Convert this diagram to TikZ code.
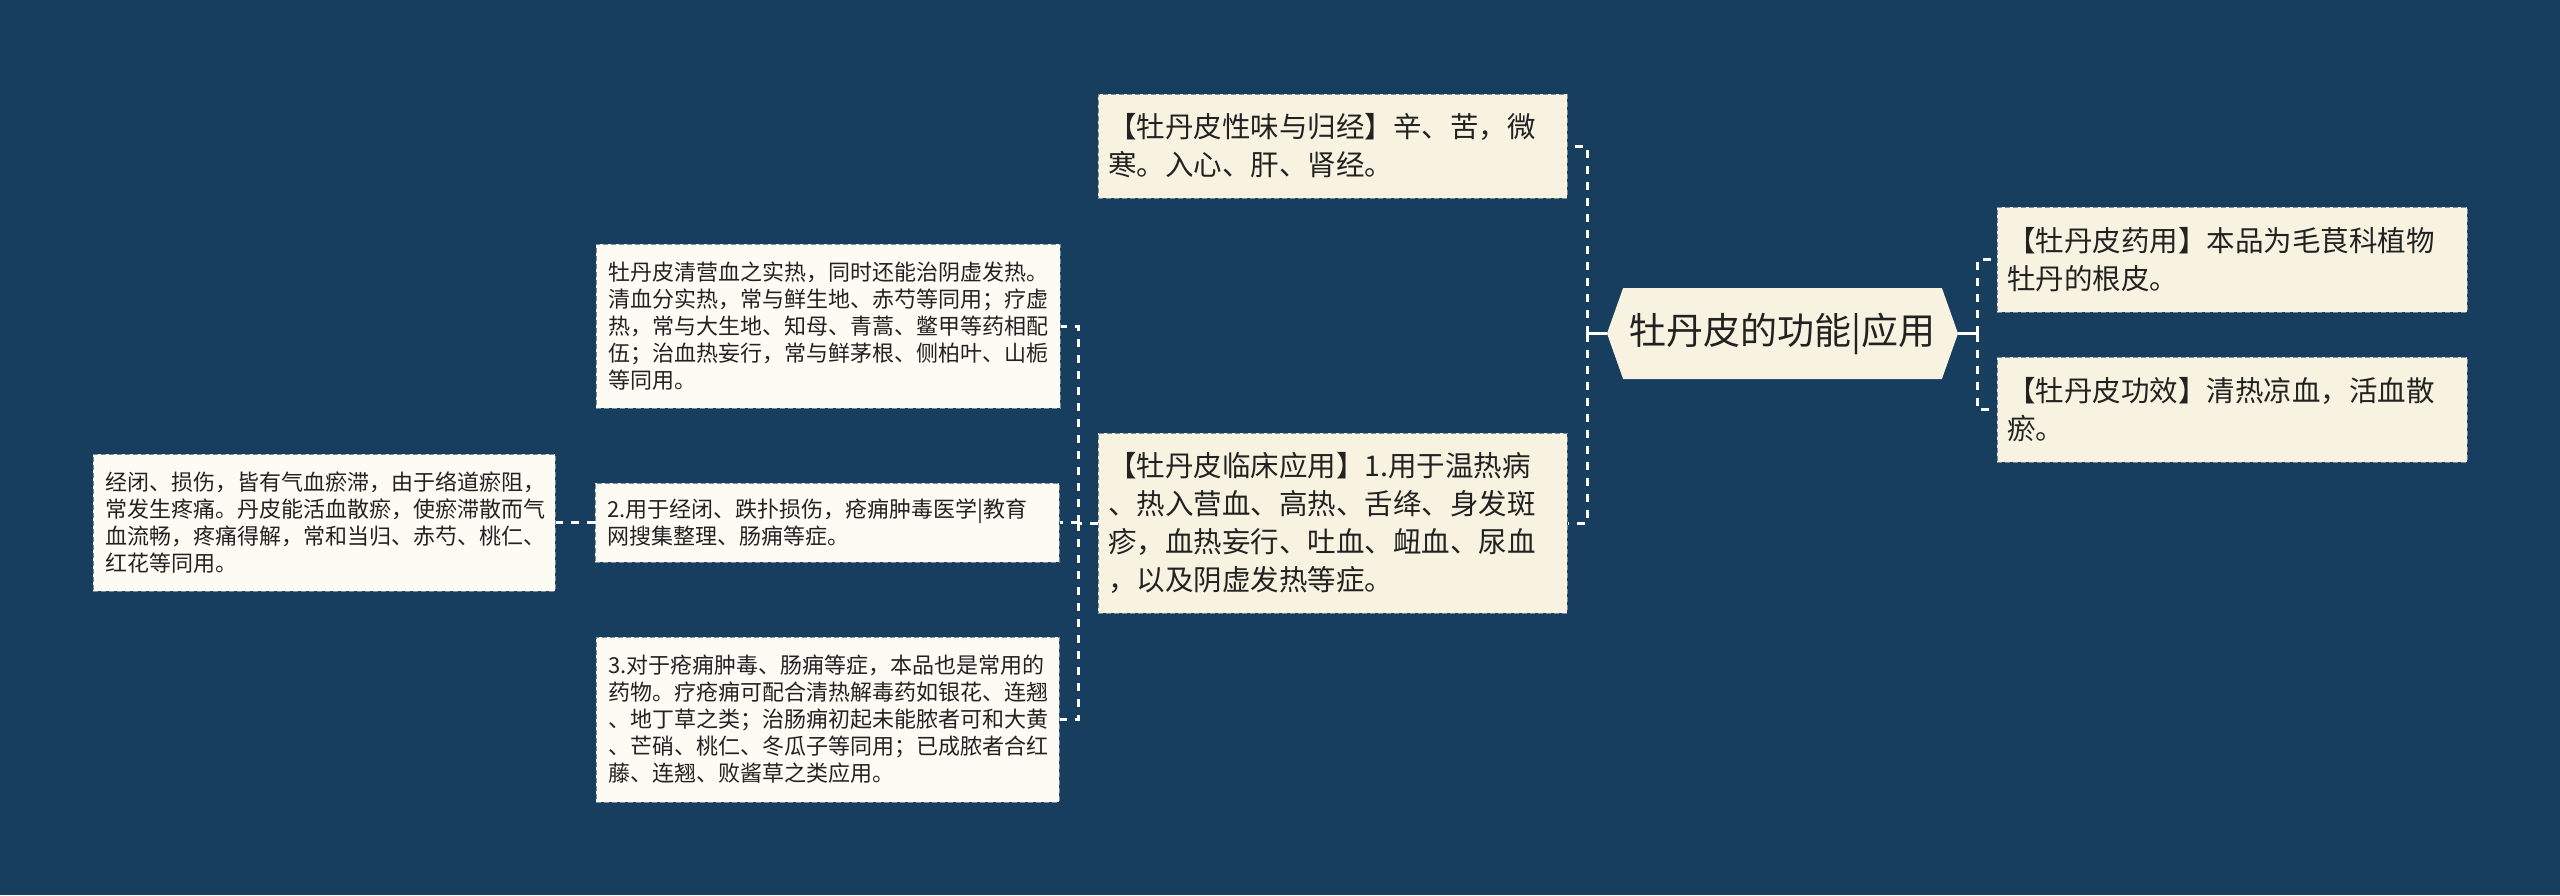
\documentclass[tikz,border=0pt]{standalone}
\usepackage{fontspec}
\setmainfont{Noto Sans CJK SC}
\usetikzlibrary{shapes.symbols}
\definecolor{bgblue}{HTML}{173E5F}
\definecolor{cream}{HTML}{F8F3E1}
\definecolor{paper}{HTML}{FDFCF4}
\definecolor{edge}{HTML}{7D8C99}
\definecolor{ink}{HTML}{222222}
\tikzstyle{rootbox} = [signal, signal to=west and east, signal pointer angle=141,
                       fill=cream, text=ink, inner sep=0pt,
                       minimum width=351pt, minimum height=91pt,
                       font=\fontsize{37}{42}\selectfont]
\tikzstyle{mainbox} = [rectangle, fill=cream, draw=edge, dashed, line width=1pt,
                       dash pattern=on 5pt off 3pt, text=ink, align=left,
                       inner xsep=10pt, inner ysep=0pt,
                       font=\fontsize{28.5}{38}\selectfont]
\tikzstyle{subbox} = [rectangle, fill=paper, draw=edge, dashed, line width=1pt,
                      dash pattern=on 5pt off 3pt, text=ink, align=left,
                      inner xsep=12pt, inner ysep=0pt,
                      font=\fontsize{22}{27}\selectfont]
\tikzstyle{stem} = [draw=white, line width=3pt]
\tikzstyle{link} = [draw=white, line width=3pt, dash pattern=on 8pt off 8pt]

\begin{document}
\begin{tikzpicture}[x=1pt, y=-1pt]
    \useasboundingbox (0,0) rectangle (2560,895);
    \fill [bgblue] (0,0) rectangle (2560,895);

    % centre
    \node (root) [rootbox] at (1782.5,333.5) {牡丹皮的功能|应用};

    % right side
    \node (yaoyong) [mainbox, minimum width=470pt, minimum height=105pt, text width=450pt]
        at (2232,259.5) {【牡丹皮药用】本品为毛茛科植物\\牡丹的根皮。};
    \node (gongxiao) [mainbox, minimum width=470pt, minimum height=105pt, text width=450pt]
        at (2232,409.5) {【牡丹皮功效】清热凉血，活血散\\瘀。};

    % left side
    \node (xingwei) [mainbox, minimum width=469pt, minimum height=104pt, text width=449pt]
        at (1332.5,146) {【牡丹皮性味与归经】辛、苦，微\\寒。入心、肝、肾经。};
    \node (linchuang) [mainbox, minimum width=469pt, minimum height=180pt, text width=449pt]
        at (1332.5,523) {【牡丹皮临床应用】1.用于温热病\\、热入营血、高热、舌绛、身发斑\\疹，血热妄行、吐血、衄血、尿血\\，以及阴虚发热等症。};

    \node (qingying) [subbox, minimum width=464pt, minimum height=164pt, text width=440pt]
        at (828,326) {牡丹皮清营血之实热，同时还能治阴虚发热。\\清血分实热，常与鲜生地、赤芍等同用；疗虚\\热，常与大生地、知母、青蒿、鳖甲等药相配\\伍；治血热妄行，常与鲜茅根、侧柏叶、山栀\\等同用。};
    \node (jingbi) [subbox, minimum width=464pt, minimum height=79pt, text width=440pt]
        at (827,522.5) {2.用于经闭、跌扑损伤，疮痈肿毒医学|教育\\网搜集整理、肠痈等症。};
    \node (chuangyong) [subbox, minimum width=463pt, minimum height=165pt, text width=439pt]
        at (827.5,719.5) {3.对于疮痈肿毒、肠痈等症，本品也是常用的\\药物。疗疮痈可配合清热解毒药如银花、连翘\\、地丁草之类；治肠痈初起未能脓者可和大黄\\、芒硝、桃仁、冬瓜子等同用；已成脓者合红\\藤、连翘、败酱草之类应用。};
    \node (yuzhi) [subbox, minimum width=462pt, minimum height=137pt, text width=438pt]
        at (324,522.5) {经闭、损伤，皆有气血瘀滞，由于络道瘀阻，\\常发生疼痛。丹皮能活血散瘀，使瘀滞散而气\\血流畅，疼痛得解，常和当归、赤芍、桃仁、\\红花等同用。};

    % joints
    \coordinate (rjoint) at (1977,333.5);
    \coordinate (ljoint) at (1587,333.5);
    \coordinate (mjoint) at (1078,523);

    \draw [stem] (root.east) -- (rjoint);
    \draw [link] (rjoint) |- (yaoyong.west);
    \draw [link] (rjoint) |- (gongxiao.west);

    \draw [stem] (root.west) -- (ljoint);
    \draw [link] (ljoint) |- (xingwei.east);
    \draw [link] (ljoint) |- (linchuang.east);

    \draw [link] (linchuang.west) -- (mjoint);
    \draw [link] (mjoint) |- (qingying.east);
    \draw [link] (mjoint) |- (jingbi.east);
    \draw [link] (mjoint) |- (chuangyong.east);

    \draw [link] (jingbi.west) -- (yuzhi.east);

\end{tikzpicture}
\end{document}
